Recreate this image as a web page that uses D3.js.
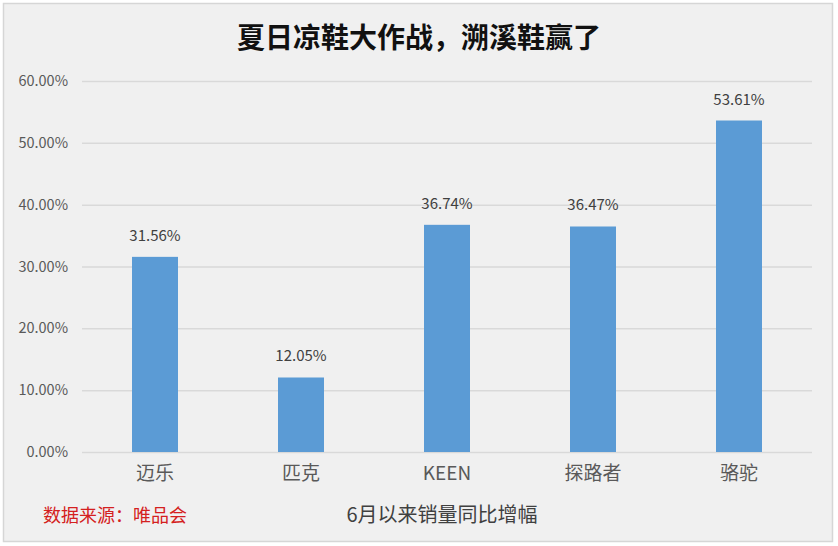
<!DOCTYPE html>
<html><head><meta charset="utf-8">
<script src="https://cdn.jsdelivr.net/npm/d3@7"></script>
<style>body{margin:0;background:#fff;}svg{display:block;}</style>
</head><body>
<svg id="c" width="838" height="546"></svg>
<script>
const categories = ["迈乐", "匹克", "KEEN", "探路者", "骆驼"];
const values = [31.56, 12.05, 36.74, 36.47, 53.61];
const yTicks = [0, 10, 20, 30, 40, 50, 60];
const title = "夏日凉鞋大作战，溯溪鞋赢了";
const source = "数据来源：唯品会";
const axisTitle = "6月以来销量同比增幅";

const svg = d3.select("#c");
const font = "'Noto Sans CJK SC','Noto Sans',sans-serif";
svg.append("rect").attr("x", 3.5).attr("y", 3.5).attr("width", 829).attr("height", 538)
  .attr("fill", "#f0f0f0").attr("stroke", "#d6d6d6").attr("stroke-width", 1.5);

const x = d3.scaleBand().domain(categories).range([82, 812]).paddingInner(0.685).paddingOuter(0.3425);
const y = d3.scaleLinear().domain([0, 60]).range([452, 81]);

const g = svg.append("g");
const yAxis = d3.axisLeft(y).tickValues(yTicks).tickSize(-(812 - 82)).tickFormat(d => d.toFixed(2) + "%");
const ya = g.append("g").attr("transform", "translate(82,0)").call(yAxis);
ya.select(".domain").remove();
ya.selectAll(".tick line").attr("stroke", "#d9d9d9").attr("stroke-width", 1.5);
ya.selectAll(".tick text").attr("x", -14).attr("fill", "#595959").style("font-size", "14.5px").style("font-family", font);

const xAxis = d3.axisBottom(x).tickSize(0).tickPadding(15);
const xa = g.append("g").attr("transform", "translate(0,452)").call(xAxis);
xa.select(".domain").remove();
xa.selectAll(".tick text").attr("fill", "#595959").style("font-size", "19px").style("font-family", font);

g.selectAll(".bar").data(values).join("rect").attr("class", "bar")
  .attr("x", (d, i) => x(categories[i])).attr("width", x.bandwidth())
  .attr("y", d => y(d)).attr("height", d => y(0) - y(d)).attr("fill", "#5b9bd5");

g.selectAll(".lbl").data(values).join("text").attr("class", "lbl")
  .attr("x", (d, i) => x(categories[i]) + x.bandwidth() / 2).attr("y", d => y(d) - 16)
  .attr("text-anchor", "middle").attr("fill", "#404040").style("font-size", "15px").style("font-family", font)
  .text(d => d.toFixed(2) + "%");

svg.append("text").attr("x", 419).attr("y", 48).attr("text-anchor", "middle")
  .style("font-size", "28px").style("font-weight", "bold").style("font-family", font).attr("fill", "#111")
  .text(title);
svg.append("text").attr("x", 43).attr("y", 522).style("font-size", "18px").style("font-family", font)
  .attr("fill", "#d42020").text(source);
svg.append("text").attr("x", 442).attr("y", 522).attr("text-anchor", "middle").style("font-size", "20px")
  .style("font-family", font).attr("fill", "#404040").text(axisTitle);
</script>
</body></html>
